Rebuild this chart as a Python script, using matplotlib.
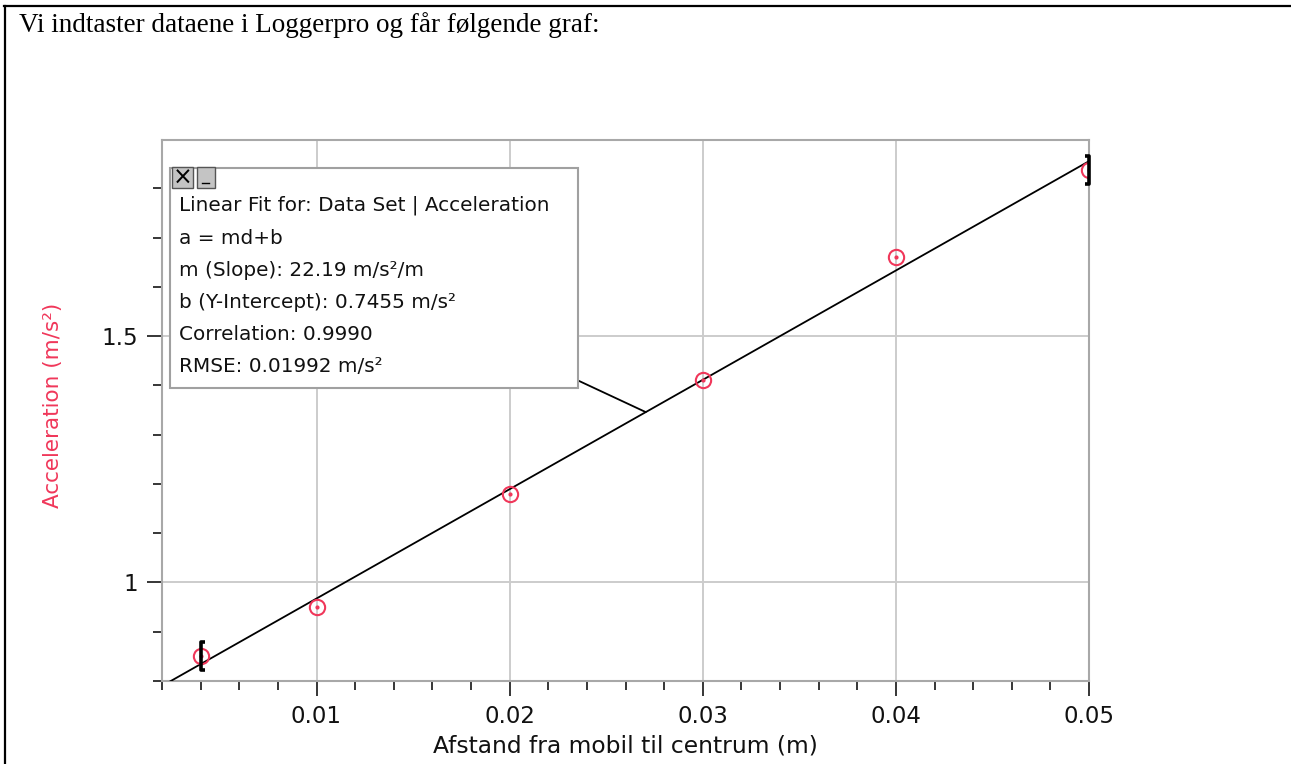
import numpy as np
import matplotlib
matplotlib.use("Agg")
import matplotlib.pyplot as plt
from matplotlib.path import Path
from matplotlib.ticker import MultipleLocator, FuncFormatter
from matplotlib.patches import Rectangle
from matplotlib.lines import Line2D

# ---- data ----
distance = [0.004, 0.010, 0.020, 0.030, 0.040, 0.050]
acceleration = [0.851, 0.950, 1.180, 1.410, 1.660, 1.837]
slope = 22.19
intercept = 0.7455
fit_lines = [
    "Linear Fit for: Data Set | Acceleration",
    "a = md+b",
    "m (Slope): 22.19 m/s²/m",
    "b (Y-Intercept): 0.7455 m/s²",
    "Correlation: 0.9990",
    "RMSE: 0.01992 m/s²",
]
title = "Vi indtaster dataene i Loggerpro og får følgende graf:"
xlabel = "Afstand fra mobil til centrum (m)"
ylabel = "Acceleration (m/s²)"
x_limits = (0.002, 0.05)
y_limits = (0.8, 1.898)
connector_x = 0.02705

RED = "#f0375a"
W, H = 1291, 764
fig = plt.figure(figsize=(W / 100, H / 100), dpi=100)
fig.patch.set_facecolor("white")

def fx(px):
    return px / W

def fy(py):
    return 1 - py / H

# document frame (top and left edges)
fig.add_artist(Line2D([fx(4), 1.0], [fy(6), fy(6)], color="black", lw=1.6, transform=fig.transFigure))
fig.add_artist(Line2D([fx(5), fx(5)], [fy(6), 0.0], color="black", lw=1.6, transform=fig.transFigure))
fig.text(fx(19), fy(25), title, family="Liberation Serif", fontsize=19.5, ha="left", va="center")

ax = fig.add_axes([fx(162), fy(681), fx(1089) - fx(162), fy(140) - fy(681)])
ax.set_xlim(*x_limits)
ax.set_ylim(*y_limits)

ax.xaxis.set_major_locator(MultipleLocator(0.01))
ax.xaxis.set_minor_locator(MultipleLocator(0.002))
ax.yaxis.set_major_locator(MultipleLocator(0.5))
ax.yaxis.set_minor_locator(MultipleLocator(0.1))
fmt = FuncFormatter(lambda v, p: "%g" % round(v, 6))
ax.xaxis.set_major_formatter(fmt)
ax.yaxis.set_major_formatter(fmt)
ax.tick_params(which="major", direction="out", length=11, width=1.1, color="black",
               labelsize=16.5, pad=6, labelcolor="#111111")
ax.tick_params(which="minor", direction="out", length=6.5, width=1.1, color="black")
ax.grid(True, which="major", color="#cccccc", lw=1.4)
ax.set_axisbelow(True)
for s in ax.spines.values():
    s.set_color("#a8a8a8")
    s.set_linewidth(1.5)

# fit line
xf = np.array(x_limits)
ax.plot(xf, slope * xf + intercept, color="black", lw=1.3, zorder=3)

# data markers
ax.plot(distance, acceleration, ls="none", marker="o", ms=11, mfc="none",
        mec=RED, mew=1.5, zorder=4)
ax.plot(distance, acceleration, ls="none", marker="o", ms=2, mfc=RED, mec=RED, zorder=4)

# fit-range brackets
left_br = Path([(0.3, 1), (0, 1), (0, -1), (0.3, -1)],
               [Path.MOVETO, Path.LINETO, Path.LINETO, Path.LINETO])
right_br = Path([(-0.3, 1), (0, 1), (0, -1), (-0.3, -1)],
                [Path.MOVETO, Path.LINETO, Path.LINETO, Path.LINETO])
ax.plot([distance[0]], [acceleration[0]], ls="none", marker=left_br, ms=20,
        mfc="none", mec="black", mew=2.6, clip_on=False, zorder=5)
ax.plot([distance[-1]], [acceleration[-1]], ls="none", marker=right_br, ms=20,
        mfc="none", mec="black", mew=2.6, clip_on=False, zorder=5)

# annotation box in axes fraction
def axx(px):
    return (px - 162) / 927

def axy(py):
    return (681 - py) / 541

box = Rectangle((axx(170), axy(388)), axx(578) - axx(170), axy(168) - axy(388),
                transform=ax.transAxes, facecolor="white", edgecolor="#a0a0a0",
                lw=1.5, zorder=6)
ax.add_patch(box)
ax.annotate("", xy=(connector_x, slope * connector_x + intercept), xycoords="data",
            xytext=(axx(577), axy(380)), textcoords="axes fraction",
            arrowprops=dict(arrowstyle="-", color="black", lw=1.3,
                            shrinkA=0, shrinkB=0), zorder=5)
line_y = [205, 238, 270, 302, 334, 366]
for t, py in zip(fit_lines, line_y):
    ax.text(axx(179), axy(py), t, transform=ax.transAxes, fontsize=14.4,
            ha="left", va="center", color="#111111", zorder=7)

# window buttons
for (x0, x1) in [(172, 193), (197, 215)]:
    ax.add_patch(Rectangle((axx(x0), axy(188)), axx(x1) - axx(x0), axy(167) - axy(188),
                           transform=ax.transAxes, facecolor="#c4c4c4",
                           edgecolor="#555555", lw=1.0, zorder=8))
ax.text(axx(182.5), axy(177.5), "×", transform=ax.transAxes, fontsize=17,
        ha="center", va="center", color="black", zorder=9)
ax.plot([axx(202), axx(209)], [axy(183), axy(183)], transform=ax.transAxes,
        color="black", lw=1.0, zorder=9, clip_on=False)

fig.text(fx(625), fy(746), xlabel, fontsize=16.8, ha="center", va="center", color="#111111")
fig.text(fx(53), fy(405), ylabel, fontsize=15.5, ha="center", va="center",
         rotation=90, color=RED)

fig.savefig("out.png", dpi=100)
